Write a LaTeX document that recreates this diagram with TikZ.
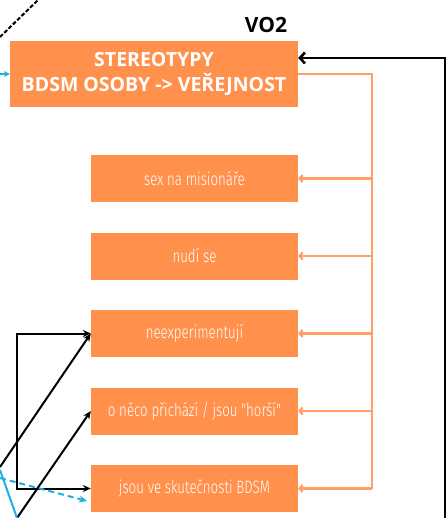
\documentclass[tikz,border=0pt]{standalone}
\usepackage{fontspec}
\setmainfont{Open Sans}
\newfontfamily\condfont[FakeStretch=0.74]{Fira Sans Light}
\usetikzlibrary{arrows.meta,positioning}

\definecolor{boxorange}{RGB}{255,145,77}
\definecolor{lineorange}{RGB}{255,160,105}
\definecolor{linecyan}{RGB}{30,175,225}

\begin{document}
\begin{tikzpicture}[x=1pt,y=-1pt,>={Stealth[length=8pt,width=7pt]},
                    node distance=77.5pt,
                    head node/.style={rectangle,fill=boxorange,text=white,minimum width=288pt,
                                      minimum height=66pt,align=center,font=\bfseries\fontsize{19.5}{25}\selectfont},
                    item node/.style={rectangle,fill=boxorange,text=white,minimum width=207pt,
                                      minimum height=47pt,font=\condfont\fontsize{18}{20}\selectfont},
                    bus/.style={draw=lineorange,line width=2.2pt},
                    link/.style={draw=black,line width=2pt}]
  \useasboundingbox (0,0) rectangle (446,518);

  \node[head node] (0) at (154,74) {STEREOTYPY\\BDSM OSOBY -> VEŘEJNOST};
  \node[font=\bfseries\fontsize{21}{24}\selectfont] (vo2) at (266,25) {VO2};

  \node[item node] (1) at (194.5,178.5) {sex na misionáře};
  \node[item node] (2) [below of=1] {nudí se};
  \node[item node] (3) [below of=2] {neexperimentují};
  \node[item node] (4) [below of=3] {o něco přichází / jsou "horší"};
  \node[item node] (5) [below of=4] {jsou ve skutečnosti BDSM};

  % orange bus on the right
  \coordinate (b) at (372,74);
  \draw[bus] (0.east) -- (b) -- (b |- 5.east);
  \foreach \i in {1,...,5}
    \draw[bus,-{Straight Barb[length=3pt,width=7pt]}] (b |- \i.east) -- (\i.east);

  % incoming from the right
  \coordinate (r) at (445,518);
  \draw[black,line width=2.6pt,-{Straight Barb[length=5pt,width=11pt]}]
    (r) |- ([yshift=16pt]0.east);

  % left side
  \coordinate (l) at (17,411);
  \draw[link,<->] (3.west) -| (l) |- (5.west);
  \coordinate (d1) at (0,467);
  \coordinate (d2) at (17,518);
  \draw[link,->] (d1) -- (3.west);
  \draw[link,->] (d2) -- (4.west);

  \coordinate (c1) at (0,470);
  \coordinate (c2) at (17,518);
  \coordinate (c3) at (0,478);
  \coordinate (c4) at (87,501);
  \draw[linecyan,line width=2pt] (c1) -- (c2);
  \draw[linecyan,line width=2pt,dash pattern=on 6pt off 4pt,->] (c3) -- (c4);

  % top left
  \coordinate (t1) at (0,37);
  \coordinate (t2) at (38,0);
  \draw[black,line width=2pt,dash pattern=on 4pt off 2pt] (t1) -- (t2);
  \coordinate (c0) at (0,74);
  \draw[linecyan,line width=2pt,-{Stealth[length=6pt,width=6pt]}] (c0) -- (0.west);
\end{tikzpicture}
\end{document}
